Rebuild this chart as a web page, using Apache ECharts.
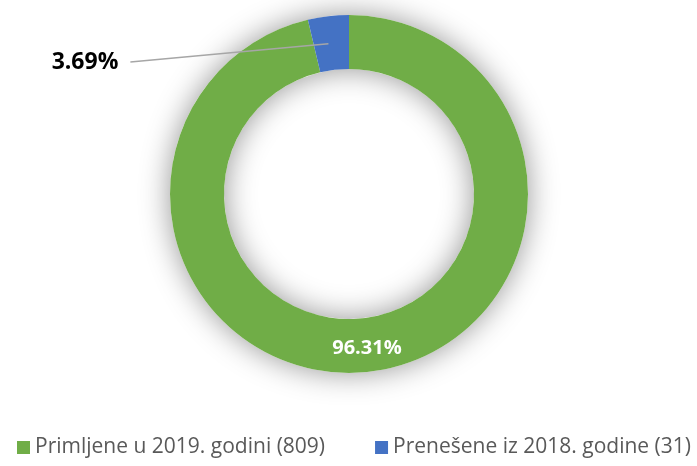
<!DOCTYPE html>
<html>
<head>
<meta charset="utf-8">
<script src="https://cdn.jsdelivr.net/npm/echarts@6/dist/echarts.min.js"></script>
<style>
  html, body { margin: 0; padding: 0; background: #fff; }
  #chart { width: 697px; height: 466px; }
</style>
</head>
<body>
<div id="chart"></div>
<script>
const categories = ['Primljene u 2019. godini (809)', 'Prenešene iz 2018. godine (31)']
const values = [809, 31]
const colors = ['#70AD47', '#4472C4']

const chart = echarts.init(document.getElementById('chart'), null, { renderer: 'canvas' })

const ringCenter = [349, 194]
const ringRadius = [125, 179]
const total = values.reduce((a, b) => a + b, 0)

// the coloured ring itself, no labels
const ringData = categories.map((name, i) => ({
  name,
  value: values[i],
  itemStyle: { color: colors[i] }
}))

// same ring again, invisible, only to carry the labels above the slices
const labelData = categories.map((name, i) => {
  const item = { name, value: values[i] }
  if (i === 0) {
    item.label = {
      show: true,
      position: 'inside',
      color: '#fff',
      fontSize: 20,
      fontWeight: 'bold'
    }
    item.labelLine = { show: false }
  } else {
    item.label = {
      show: true,
      position: 'outside',
      color: '#000',
      fontSize: 23,
      fontWeight: 'bold'
    }
    item.labelLine = {
      show: true,
      length: 10,
      length2: 10,
      lineStyle: { color: '#a6a6a6', width: 1.5 }
    }
  }
  return item
})

chart.setOption({
  backgroundColor: '#fff',
  textStyle: { fontFamily: 'Open Sans' },
  animation: false,
  legend: {
    bottom: 3,
    left: 12,
    itemWidth: 13,
    itemHeight: 13,
    itemGap: 50,
    icon: 'rect',
    textStyle: { fontSize: 21, color: '#595959', fontFamily: 'Open Sans' },
    data: categories.map((name, i) => ({ name, itemStyle: { color: colors[i] } }))
  },
  series: [{
    // soft glow under the whole ring
    type: 'pie',
    z: 1,
    center: ringCenter,
    radius: ringRadius,
    silent: true,
    label: { show: false },
    labelLine: { show: false },
    itemStyle: {
      color: '#fff',
      shadowBlur: 30,
      shadowColor: 'rgba(0,0,0,0.42)'
    },
    data: [{ name: '', value: total }]
  }, {
    type: 'pie',
    z: 2,
    center: ringCenter,
    radius: ringRadius,
    startAngle: 90,
    clockwise: true,
    silent: true,
    label: { show: false },
    labelLine: { show: false },
    data: ringData
  }, {
    type: 'pie',
    z: 5,
    center: ringCenter,
    radius: ringRadius,
    startAngle: 90,
    clockwise: true,
    silent: true,
    avoidLabelOverlap: false,
    itemStyle: { color: 'rgba(0,0,0,0)' },
    label: {
      formatter: '{d}%',
      fontFamily: 'Open Sans'
    },
    labelLayout: params => {
      if (params.dataIndex === 1) {
        // leader line runs from the middle of the small slice to the label
        const r = params.rect
        const lx = 85
        const ly = 62
        const endX = lx + params.labelRect.width / 2 + 12
        return {
          x: lx,
          y: ly,
          align: 'center',
          verticalAlign: 'middle',
          labelLinePoints: [
            [r.x + r.width / 2, r.y + r.height / 2],
            [endX, ly],
            [endX, ly]
          ]
        }
      }
    },
    data: labelData
  }]
})
</script>
</body>
</html>
